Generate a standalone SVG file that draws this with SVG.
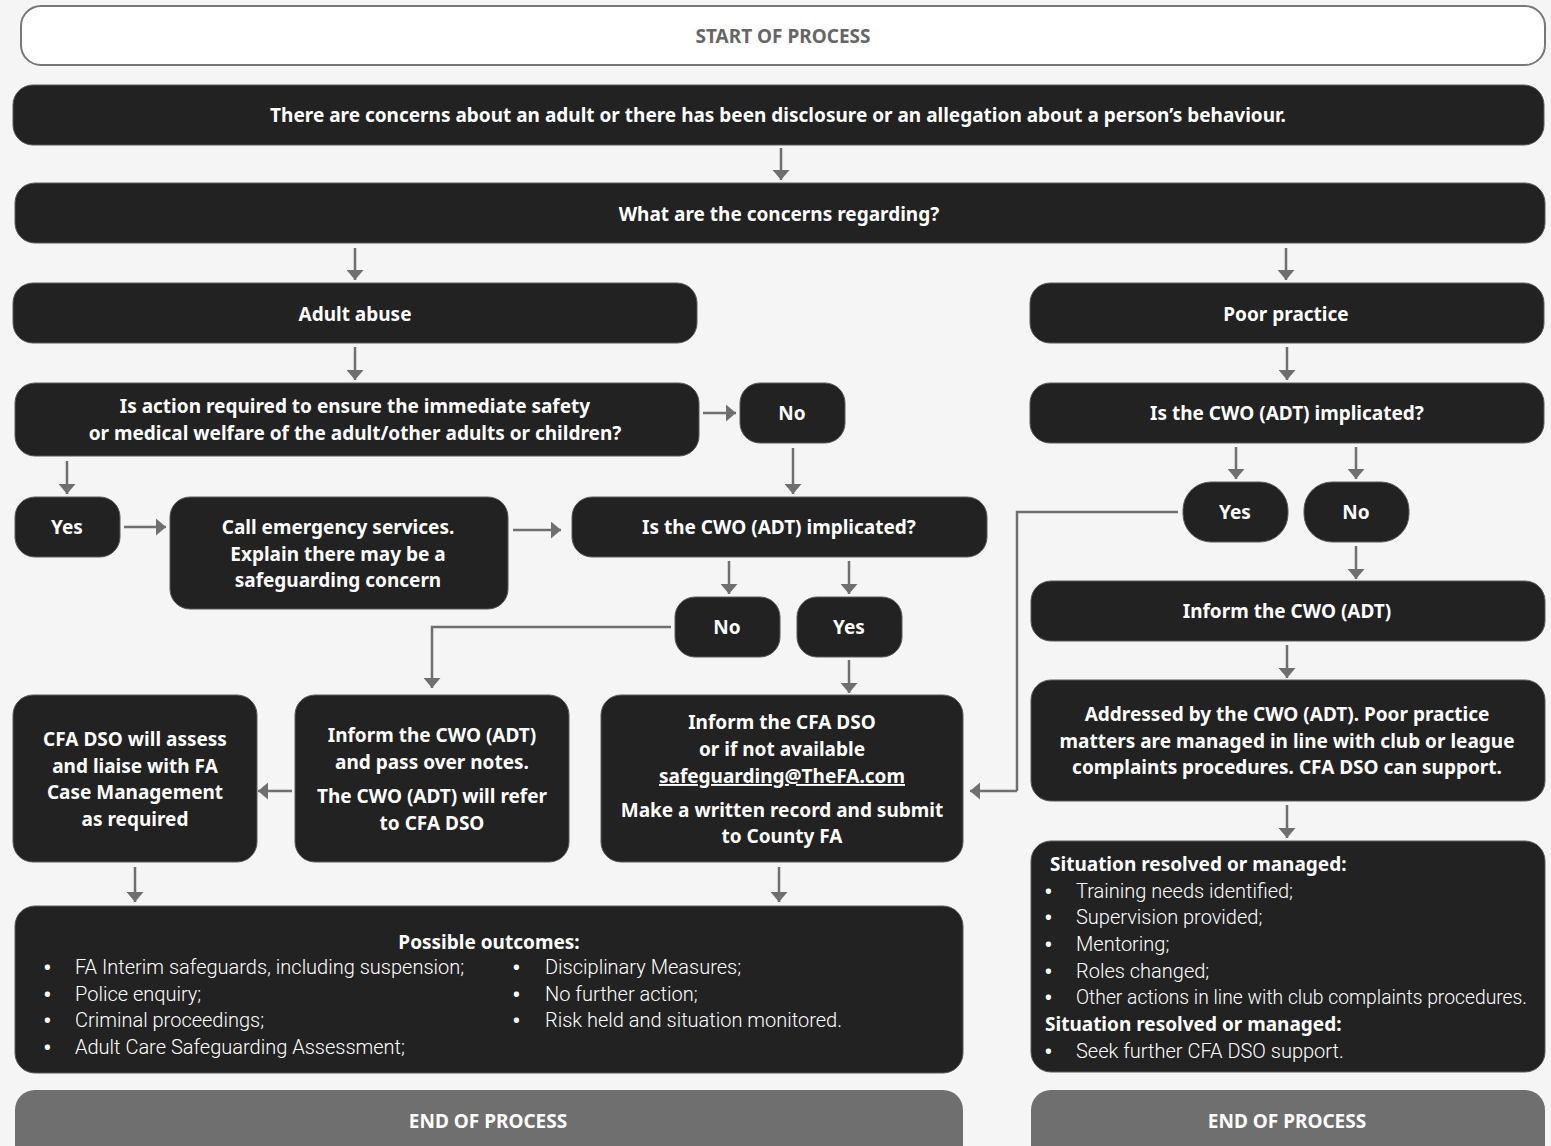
<svg xmlns="http://www.w3.org/2000/svg" width="1551" height="1146" viewBox="0 0 1551 1146">
<defs>
<marker id="ah" markerWidth="10" markerHeight="17" refX="10" refY="8.5" orient="auto" markerUnits="userSpaceOnUse" viewBox="0 0 10 17">
<path d="M0,0 L10,8.5 L0,17 z" fill="#6f6f6f"/>
</marker>
<style>
.bx{fill:#222222;stroke:#5a5a5a;stroke-width:1}
.t{font-family:"Noto Sans","Open Sans","Liberation Sans",sans-serif;font-weight:700;font-size:19px;fill:#ffffff;text-anchor:middle}
.l{font-family:Roboto,"Noto Sans","Liberation Sans",sans-serif;font-weight:300;font-size:20px;fill:#ffffff}
.b{font-family:"Noto Sans","Liberation Sans",sans-serif;font-weight:700;font-size:18px;fill:#ffffff}
.hb{font-family:"Noto Sans","Open Sans","Liberation Sans",sans-serif;font-weight:700;font-size:19px;fill:#ffffff}
.c{fill:none;stroke:#6f6f6f;stroke-width:2.5;marker-end:url(#ah)}
.cn{fill:none;stroke:#6f6f6f;stroke-width:2.5}
</style>
</defs>
<rect x="0" y="0" width="1551" height="1146" fill="#f5f5f5"/>
<g id="start">
<rect x="21" y="6" width="1524" height="59" rx="20" fill="#ffffff" stroke="#777777" stroke-width="2"/>
<text x="783" y="43" class="t" style="fill:#666666">START OF PROCESS</text>
</g>
<g id="concerns">
<rect class="bx" x="13" y="85" width="1531" height="60" rx="20"/>
<text x="778" y="122" class="t">There are concerns about an adult or there has been disclosure or an allegation about a person’s behaviour.</text>
</g>
<g id="regarding">
<rect class="bx" x="15" y="183" width="1530" height="60" rx="20"/>
<text x="779" y="221" class="t">What are the concerns regarding?</text>
</g>
<g id="adult-abuse">
<rect class="bx" x="13" y="283" width="684" height="60" rx="20"/>
<text x="355" y="321" class="t">Adult abuse</text>
</g>
<g id="poor-practice">
<rect class="bx" x="1030" y="283" width="514" height="60" rx="20"/>
<text x="1286" y="321" class="t">Poor practice</text>
</g>
<g id="action-required">
<rect class="bx" x="15" y="383" width="684" height="73" rx="20"/>
<text x="355" y="413" class="t">Is action required to ensure the immediate safety</text>
<text x="355" y="440" class="t">or medical welfare of the adult/other adults or children?</text>
</g>
<g id="no1">
<rect class="bx" x="740" y="383" width="105" height="60" rx="20"/>
<text x="792" y="420" class="t">No</text>
</g>
<g id="pp-implicated">
<rect class="bx" x="1030" y="383" width="514" height="60" rx="20"/>
<text x="1287" y="420" class="t">Is the CWO (ADT) implicated?</text>
</g>
<g id="yes1">
<rect class="bx" x="15" y="497" width="105" height="60" rx="20"/>
<text x="67" y="534" class="t">Yes</text>
</g>
<g id="emergency">
<rect class="bx" x="170" y="497" width="338" height="112" rx="20"/>
<text x="338" y="534" class="t">Call emergency services.</text>
<text x="338" y="561" class="t">Explain there may be a</text>
<text x="338" y="587" class="t">safeguarding concern</text>
</g>
<g id="aa-implicated">
<rect class="bx" x="572" y="497" width="415" height="60" rx="20"/>
<text x="779" y="534" class="t">Is the CWO (ADT) implicated?</text>
</g>
<g id="pp-yes">
<rect class="bx" x="1183" y="482" width="105" height="60" rx="28"/>
<text x="1235" y="519" class="t">Yes</text>
</g>
<g id="pp-no">
<rect class="bx" x="1304" y="482" width="105" height="60" rx="28"/>
<text x="1356" y="519" class="t">No</text>
</g>
<g id="pp-inform">
<rect class="bx" x="1031" y="581" width="514" height="60" rx="20"/>
<text x="1287" y="618" class="t">Inform the CWO (ADT)</text>
</g>
<g id="aa-no">
<rect class="bx" x="675" y="597" width="105" height="60" rx="20"/>
<text x="727" y="634" class="t">No</text>
</g>
<g id="aa-yes">
<rect class="bx" x="797" y="597" width="105" height="60" rx="20"/>
<text x="849" y="634" class="t">Yes</text>
</g>
<g id="cfa-assess">
<rect class="bx" x="13" y="695" width="244" height="167" rx="20"/>
<text x="135" y="746" class="t">CFA DSO will assess</text>
<text x="135" y="773" class="t">and liaise with FA</text>
<text x="135" y="799" class="t">Case Management</text>
<text x="135" y="826" class="t">as required</text>
</g>
<g id="inform-notes">
<rect class="bx" x="295" y="695" width="274" height="167" rx="20"/>
<text x="432" y="742" class="t">Inform the CWO (ADT)</text>
<text x="432" y="769" class="t">and pass over notes.</text>
<text x="432" y="803" class="t">The CWO (ADT) will refer</text>
<text x="432" y="830" class="t">to CFA DSO</text>
</g>
<g id="inform-cfa">
<rect class="bx" x="601" y="695" width="362" height="167" rx="20"/>
<text x="782" y="729" class="t">Inform the CFA DSO</text>
<text x="782" y="756" class="t">or if not available</text>
<text x="782" y="783" class="t" text-decoration="underline">safeguarding@TheFA.com</text>
<text x="782" y="817" class="t">Make a written record and submit</text>
<text x="782" y="843" class="t">to County FA</text>
</g>
<g id="addressed">
<rect class="bx" x="1031" y="680" width="514" height="121" rx="20"/>
<text x="1287" y="721" class="t">Addressed by the CWO (ADT). Poor practice</text>
<text x="1287" y="748" class="t">matters are managed in line with club or league</text>
<text x="1287" y="774" class="t">complaints procedures. CFA DSO can support.</text>
</g>
<g id="outcomes">
<rect class="bx" x="15" y="906" width="948" height="167" rx="20"/>
<text x="489" y="949" class="t">Possible outcomes:</text>
<g class="b">
<text x="44" y="974">•</text><text x="44" y="1001">•</text><text x="44" y="1027">•</text><text x="44" y="1054">•</text>
<text x="513" y="974">•</text><text x="513" y="1001">•</text><text x="513" y="1027">•</text>
</g>
<g class="l">
<text x="75" y="974">FA Interim safeguards, including suspension;</text>
<text x="75" y="1001">Police enquiry;</text>
<text x="75" y="1027">Criminal proceedings;</text>
<text x="75" y="1054">Adult Care Safeguarding Assessment;</text>
<text x="545" y="974">Disciplinary Measures;</text>
<text x="545" y="1001">No further action;</text>
<text x="545" y="1027">Risk held and situation monitored.</text>
</g>
</g>
<g id="resolved">
<rect class="bx" x="1031" y="841" width="514" height="231" rx="20"/>
<text x="1050" y="871" class="hb">Situation resolved or managed:</text>
<g class="b">
<text x="1045" y="898">•</text><text x="1045" y="924">•</text><text x="1045" y="951">•</text><text x="1045" y="978">•</text><text x="1045" y="1004">•</text><text x="1045" y="1058">•</text>
</g>
<g class="l">
<text x="1076" y="898">Training needs identified;</text>
<text x="1076" y="924">Supervision provided;</text>
<text x="1076" y="951">Mentoring;</text>
<text x="1076" y="978">Roles changed;</text>
<text x="1076" y="1004" textLength="451" lengthAdjust="spacingAndGlyphs">Other actions in line with club complaints procedures.</text>
<text x="1076" y="1058">Seek further CFA DSO support.</text>
</g>
<text x="1045" y="1031" class="hb">Situation resolved or managed:</text>
</g>
<g id="end-left">
<rect x="15" y="1090" width="948" height="80" rx="20" fill="#6f6f6f"/>
<text x="488" y="1128" class="t">END OF PROCESS</text>
</g>
<g id="end-right">
<rect x="1031" y="1090" width="514" height="80" rx="20" fill="#6f6f6f"/>
<text x="1287" y="1128" class="t">END OF PROCESS</text>
</g>
<g id="connectors">
<path class="c" d="M781,148 V180"/>
<path class="c" d="M355,248 V280"/>
<path class="c" d="M1286,248 V280"/>
<path class="c" d="M355,347 V380"/>
<path class="c" d="M1287,347 V380"/>
<path class="c" d="M703,413 H736"/>
<path class="c" d="M67,461 V494"/>
<path class="c" d="M793,448 V494"/>
<path class="c" d="M1236,447 V479"/>
<path class="c" d="M1356,447 V479"/>
<path class="c" d="M124,527 H166"/>
<path class="c" d="M513,530 H561"/>
<path class="cn" d="M1178,512 H1017 V791"/>
<path class="c" d="M1017,791 H970"/>
<path class="c" d="M1356,546 V579"/>
<path class="c" d="M729,561 V594"/>
<path class="c" d="M849,561 V594"/>
<path class="c" d="M671,627 H432 V688"/>
<path class="c" d="M849,660 V693"/>
<path class="c" d="M1287,645 V678"/>
<path class="c" d="M292,791 H258"/>
<path class="c" d="M1287,805 V838"/>
<path class="c" d="M135,867 V902"/>
<path class="c" d="M779,867 V902"/>
</g>
</svg>
